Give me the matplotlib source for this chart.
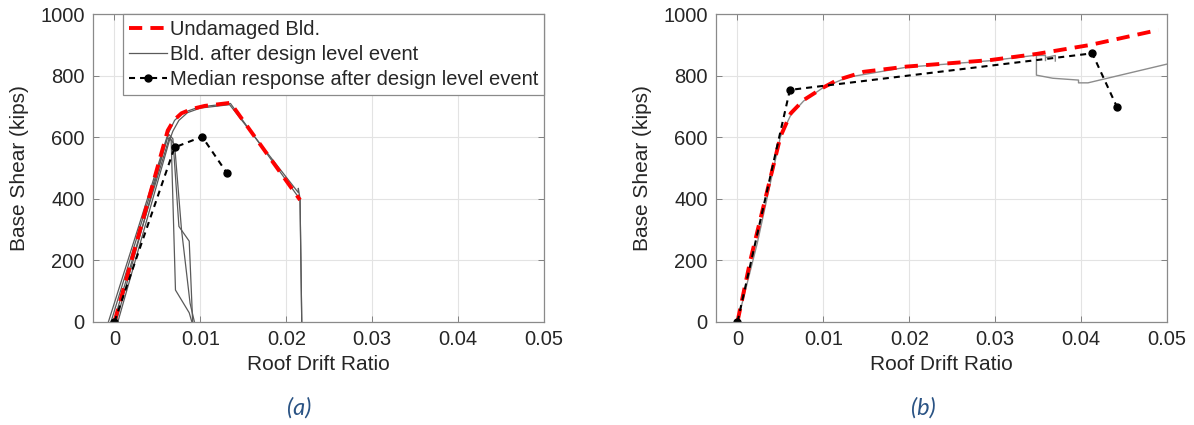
import matplotlib
matplotlib.use("Agg")
import matplotlib.pyplot as plt

plt.rcParams['font.family'] = ['Liberation Sans', 'DejaVu Sans']

# ---- panel (a) ----
undam_a_x = [0, 0.0062, 0.0069, 0.0078, 0.0090, 0.0105, 0.0120, 0.0135, 0.0216]
undam_a_y = [0, 622, 655, 678, 692, 702, 707, 712, 396]

# building curves after the design level event
g1_x = [-0.0007, 0.0061, 0.0066, 0.0071, 0.0087, 0.0090]
g1_y = [0, 600, 590, 103, 29, 0]
g2_x = [-0.0004, 0.0063, 0.0068, 0.0075, 0.0087, 0.0091]
g2_y = [0, 610, 595, 310, 262, 0]
g3_x = [-0.0001, 0.0064, 0.0070, 0.0078, 0.0088, 0.0093]
g3_y = [0, 600, 575, 300, 60, 0]
g4_x = [0.0002, 0.0063, 0.0070, 0.0080, 0.0095, 0.0110, 0.0135, 0.0216, 0.0218]
g4_y = [0, 615, 655, 680, 695, 702, 710, 398, 0]
g5_x = [0.0004, 0.0064, 0.0068, 0.0075, 0.0085, 0.0100, 0.0134, 0.0214, 0.0214, 0.0216, 0.0218]
g5_y = [0, 590, 620, 655, 680, 695, 706, 420, 434, 400, 0]

med_a_x = [0, 0.0070, 0.0102, 0.0131]
med_a_y = [0, 567, 602, 483]

# ---- panel (b) ----
undam_b_x = [0, 0.0015, 0.0050, 0.0062, 0.0077, 0.0100, 0.0116, 0.0147, 0.0197, 0.0294, 0.0348, 0.0410, 0.0490]
undam_b_y = [0, 200, 602, 678, 721, 762, 786, 813, 830, 851, 871, 900, 949]

gb_x = [0, 0.0023, 0.0050, 0.0062, 0.0077, 0.0100, 0.0128, 0.0197, 0.0294, 0.0348,
        0.0348, 0.0367, 0.0397, 0.0397, 0.0408, 0.0500]
gb_y = [0, 255, 602, 672, 718, 762, 795, 828, 849, 867,
        802, 792, 786, 777, 777, 838]
gb2_x = [0.0348, 0.0358, 0.0358]
gb2_y = [868, 868, 850]
gb3_x = [0.0360, 0.0370, 0.0370]
gb3_y = [860, 866, 848]

med_b_x = [0, 0.0061, 0.0413, 0.0442]
med_b_y = [0, 754, 873, 697]

xticks = [0, 0.01, 0.02, 0.03, 0.04, 0.05]
xtick_labels = ['0', '0.01', '0.02', '0.03', '0.04', '0.05']
yticks = [0, 200, 400, 600, 800, 1000]

txt = '#262626'
fs = 14.5

fig = plt.figure(figsize=(11.94, 4.25), dpi=100)
ax1 = fig.add_axes([93 / 1194, 103.3 / 425, 451 / 1194, 307.4 / 425])
ax2 = fig.add_axes([716 / 1194, 103.3 / 425, 451 / 1194, 307.4 / 425])

red_kw = dict(color='red', lw=2.8, dashes=(3.4, 2.1))
med_kw = dict(color='black', lw=1.5, dashes=(2.9, 2.4), marker='o', markersize=5)

# (a)
for gx, gy in [(g1_x, g1_y), (g2_x, g2_y), (g3_x, g3_y), (g4_x, g4_y), (g5_x, g5_y)]:
    ax1.plot(gx, gy, color='#5a5a5a', lw=0.9)
ax1.plot(undam_a_x, undam_a_y, **red_kw)
ax1.plot(med_a_x, med_a_y, **med_kw)

# (b)
for gx, gy in [(gb_x, gb_y), (gb2_x, gb2_y), (gb3_x, gb3_y)]:
    ax2.plot(gx, gy, color='#8c8c8c', lw=1.0)
ax2.plot(undam_b_x, undam_b_y, **red_kw)
ax2.plot(med_b_x, med_b_y, **med_kw)

for ax in (ax1, ax2):
    ax.set_xlim(-0.0025, 0.05)
    ax.set_ylim(0, 1000)
    ax.set_xticks(xticks)
    ax.set_xticklabels(xtick_labels)
    ax.set_yticks(yticks)
    ax.grid(True, color='#e3e3e3', lw=0.8)
    ax.set_axisbelow(True)
    ax.tick_params(direction='in', top=True, right=True, length=4, width=0.7,
                   colors='#808080', labelcolor=txt, labelsize=fs, pad=6)
    for s in ax.spines.values():
        s.set_color('#8a8a8a')
        s.set_linewidth(0.9)
    ax.set_xlabel('Roof Drift Ratio', fontsize=fs + 0.5, color=txt, labelpad=4)
    ax.set_ylabel('Base Shear (kips)', fontsize=fs + 0.5, color=txt, labelpad=8)

# legend built from proxy handles
h_red, = ax1.plot([], [], **red_kw)
h_gray, = ax1.plot([], [], color='#5a5a5a', lw=0.9)
h_med, = ax1.plot([], [], **med_kw)
leg = ax1.legend([h_red, h_gray, h_med],
                 ['Undamaged Bld.', 'Bld. after design level event',
                  'Median response after design level event'],
                 loc='upper right', bbox_to_anchor=(1.0, 1.0), borderaxespad=0,
                 fontsize=fs, handlelength=1.9, handletextpad=0.15,
                 labelspacing=0.3, borderpad=0.28, fancybox=False, framealpha=1,
                 edgecolor='#8a8a8a', markerfirst=True)
leg.get_frame().set_linewidth(0.9)
for t in leg.get_texts():
    t.set_color(txt)

fig.text(299 / 1194, 1 - 408 / 425, '(a)', fontsize=17, style='italic',
         color='#2a5384', ha='center', va='center', family=['Lato', 'DejaVu Sans'])
fig.text(923 / 1194, 1 - 408 / 425, '(b)', fontsize=17, style='italic',
         color='#2a5384', ha='center', va='center', family=['Lato', 'DejaVu Sans'])

fig.savefig('out.png', dpi=100)
